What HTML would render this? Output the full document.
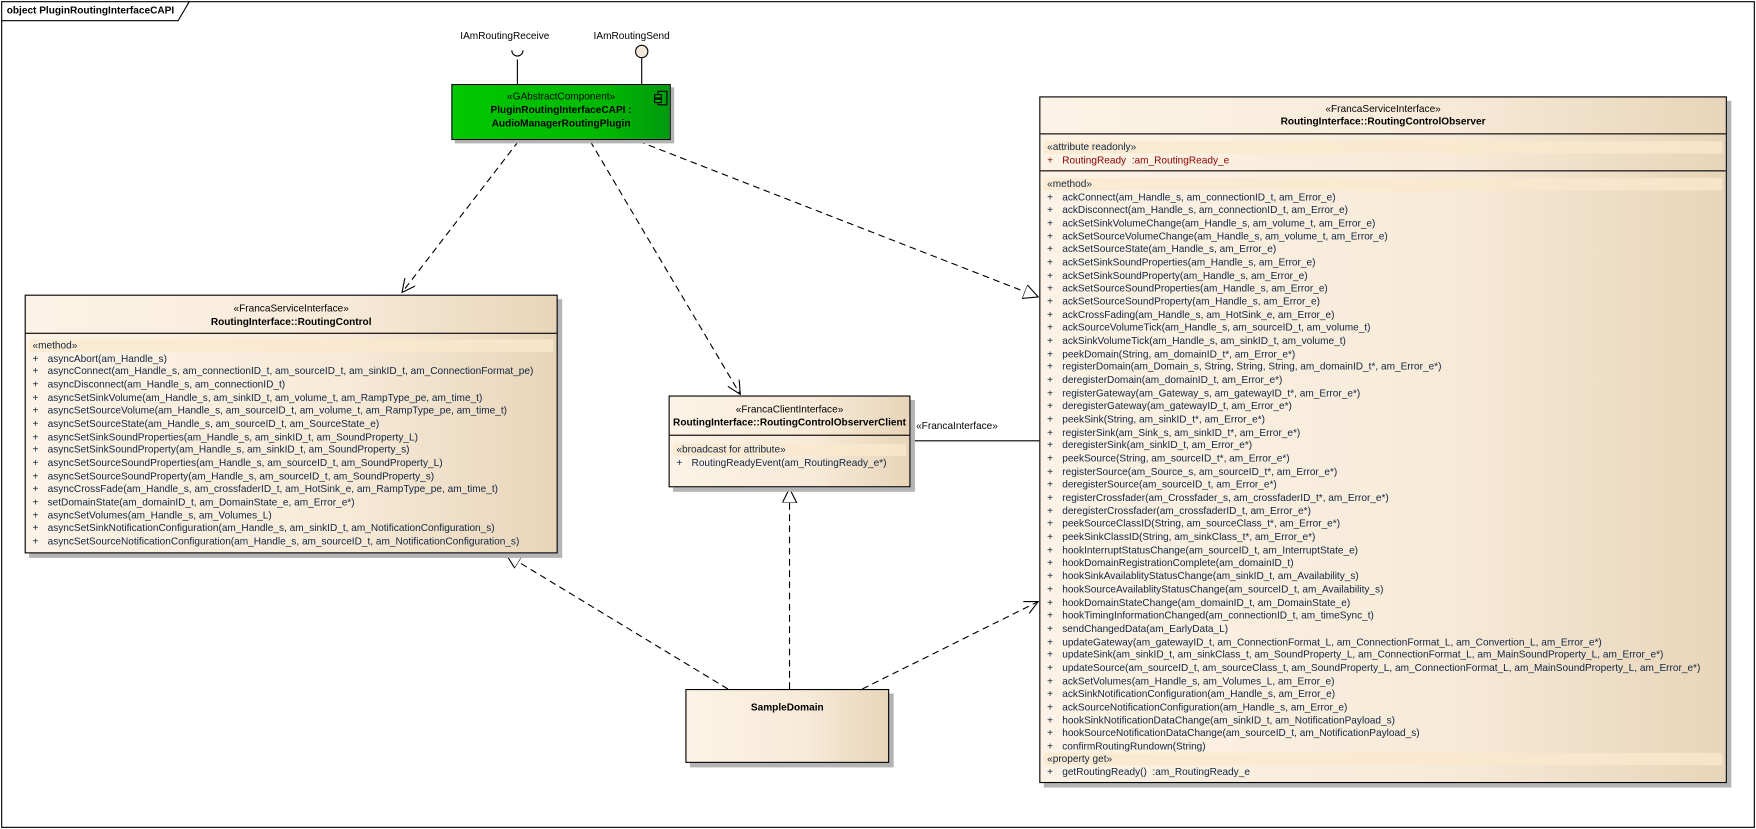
<!DOCTYPE html>
<html><head><meta charset="utf-8"><style>
html,body{margin:0;padding:0;background:#fff;width:1756px;height:829px;overflow:hidden}
#w{position:absolute;left:0;top:0;width:1568px;height:740px;transform:scale(1.1199,1.1203);transform-origin:0 0;font-family:"Liberation Sans",Arial,sans-serif;font-size:9px;color:#000}
.cls{position:absolute;border:1px solid #000;box-shadow:4px 4px 0 #b4b4b4;background:linear-gradient(to right,#fcf3e6 0%,#f7ead8 60%,#e8d5b9 100%);box-sizing:border-box}
.hdr{position:absolute;left:0;right:0;text-align:center;line-height:11.67px}
.b{font-weight:bold}
.div{position:absolute;left:0;right:0;border-top:1px solid #000}
.band{position:absolute;left:3px;right:3px;height:11px;background:rgba(250,232,205,0.8)}
.lines{position:absolute;left:0;right:0;line-height:11.67px;white-space:pre;color:#10243f}
.lines div{padding-left:6px}
.lines span{display:inline-block;width:11px}
.lab{position:absolute;white-space:nowrap;line-height:11px}
</style></head><body><div id="w">
<svg width="1568" height="740" style="position:absolute;left:0;top:0">
<defs>
<marker id="oa" markerUnits="userSpaceOnUse" markerWidth="14" markerHeight="12" refX="12" refY="6" orient="auto"><path d="M0,0 L12,6 L0,12" fill="none" stroke="#000" stroke-width="1"/></marker>
<marker id="tr" markerUnits="userSpaceOnUse" markerWidth="16" markerHeight="14" refX="13" refY="6.5" orient="auto"><path d="M0,0 L13,6.5 L0,13 z" fill="#fff" stroke="#000" stroke-width="1"/></marker>
</defs>
<rect x="1.5" y="1.5" width="1565" height="737" fill="none" stroke="#000" stroke-width="1"/>
<path d="M1.5,18.5 L159,18.5 L169,1.5" fill="none" stroke="#000"/>
<g stroke="#000" fill="none">
<line x1="462" y1="53" x2="462" y2="75"/>
<path d="M457,45 A5,5 0 0 0 467,45"/>
<line x1="573" y1="52" x2="573" y2="75"/>
<circle cx="573" cy="46" r="5.5" fill="#f3e8d8"/>
</g>
<g stroke="#000" fill="none" stroke-dasharray="6,4">
<line x1="463" y1="126" x2="359" y2="261" marker-end="url(#oa)"/>
<line x1="527" y1="126" x2="661" y2="352" marker-end="url(#oa)"/>
<line x1="570" y1="126" x2="927" y2="265" marker-end="url(#tr)"/>
<line x1="650" y1="615" x2="452" y2="495" marker-end="url(#tr)"/>
<line x1="705" y1="615" x2="705" y2="436" marker-end="url(#tr)"/>
<line x1="770" y1="615" x2="927" y2="537" marker-end="url(#oa)"/>
</g>
<line x1="812" y1="393.5" x2="928" y2="393.5" stroke="#000"/>
</svg>
<div class="lab b" style="left:6px;top:4px">object PluginRoutingInterfaceCAPI</div>
<div class="lab" style="left:411px;top:27px">IAmRoutingReceive</div>
<div class="lab" style="left:530px;top:27px">IAmRoutingSend</div>
<div class="lab" style="left:818px;top:375px">«FrancaInterface»</div>

<div style="position:absolute;left:403px;top:75px;width:196px;height:50px;border:1px solid #000;box-sizing:border-box;background:linear-gradient(to right,#00c800 0%,#00b800 70%,#009a10 100%);box-shadow:3px 3px 0 #b4b4b4">
<div class="hdr" style="top:5px">«GAbstractComponent»</div>
<div class="hdr b" style="top:17px">PluginRoutingInterfaceCAPI :</div>
<div class="hdr b" style="top:29px">AudioManagerRoutingPlugin</div>
<div style="position:absolute;left:183px;top:5px;width:7px;height:11px;border:1px solid #000"></div>
<div style="position:absolute;left:180px;top:8px;width:5px;height:2px;border:1px solid #000;background:#00b800"></div>
<div style="position:absolute;left:180px;top:12px;width:5px;height:2px;border:1px solid #000;background:#00b800"></div>
</div>

<div class="cls" style="left:22px;top:263px;width:476px;height:231px">
<div class="hdr" style="top:6px">«FrancaServiceInterface»</div>
<div class="hdr b" style="top:18px">RoutingInterface::RoutingControl</div>
<div class="div" style="top:33px"></div>
<div class="band" style="top:39px"></div>
<div class="lines" style="top:39px"><div>«method»</div><div><span>+</span> asyncAbort(am_Handle_s)</div><div><span>+</span> asyncConnect(am_Handle_s, am_connectionID_t, am_sourceID_t, am_sinkID_t, am_ConnectionFormat_pe)</div><div><span>+</span> asyncDisconnect(am_Handle_s, am_connectionID_t)</div><div><span>+</span> asyncSetSinkVolume(am_Handle_s, am_sinkID_t, am_volume_t, am_RampType_pe, am_time_t)</div><div><span>+</span> asyncSetSourceVolume(am_Handle_s, am_sourceID_t, am_volume_t, am_RampType_pe, am_time_t)</div><div><span>+</span> asyncSetSourceState(am_Handle_s, am_sourceID_t, am_SourceState_e)</div><div><span>+</span> asyncSetSinkSoundProperties(am_Handle_s, am_sinkID_t, am_SoundProperty_L)</div><div><span>+</span> asyncSetSinkSoundProperty(am_Handle_s, am_sinkID_t, am_SoundProperty_s)</div><div><span>+</span> asyncSetSourceSoundProperties(am_Handle_s, am_sourceID_t, am_SoundProperty_L)</div><div><span>+</span> asyncSetSourceSoundProperty(am_Handle_s, am_sourceID_t, am_SoundProperty_s)</div><div><span>+</span> asyncCrossFade(am_Handle_s, am_crossfaderID_t, am_HotSink_e, am_RampType_pe, am_time_t)</div><div><span>+</span> setDomainState(am_domainID_t, am_DomainState_e, am_Error_e*)</div><div><span>+</span> asyncSetVolumes(am_Handle_s, am_Volumes_L)</div><div><span>+</span> asyncSetSinkNotificationConfiguration(am_Handle_s, am_sinkID_t, am_NotificationConfiguration_s)</div><div><span>+</span> asyncSetSourceNotificationConfiguration(am_Handle_s, am_sourceID_t, am_NotificationConfiguration_s)</div></div>
</div>

<div class="cls" style="left:597px;top:353px;width:216px;height:82px">
<div class="hdr" style="top:6px">«FrancaClientInterface»</div>
<div class="hdr b" style="top:18px">RoutingInterface::RoutingControlObserverClient</div>
<div class="div" style="top:34px"></div>
<div class="band" style="top:42px"></div>
<div class="lines" style="top:42px"><div>«broadcast for attribute»</div><div><span>+</span> RoutingReadyEvent(am_RoutingReady_e*)</div></div>
</div>

<div class="cls" style="left:612px;top:615px;width:182px;height:66px">
<div class="hdr b" style="top:10px">SampleDomain</div>
</div>

<div class="cls" style="left:928px;top:86px;width:614px;height:613px">
<div class="hdr" style="top:5px">«FrancaServiceInterface»</div>
<div class="hdr b" style="top:16px">RoutingInterface::RoutingControlObserver</div>
<div class="div" style="top:32px"></div>
<div class="band" style="top:39px"></div>
<div class="lines" style="top:39px"><div>«attribute readonly»</div><div style="color:#8b0000"><span>+</span> RoutingReady  :am_RoutingReady_e</div></div>
<div class="div" style="top:65px"></div>
<div class="band" style="top:72px"></div>
<div class="lines" style="top:72px"><div>«method»</div><div><span>+</span> ackConnect(am_Handle_s, am_connectionID_t, am_Error_e)</div><div><span>+</span> ackDisconnect(am_Handle_s, am_connectionID_t, am_Error_e)</div><div><span>+</span> ackSetSinkVolumeChange(am_Handle_s, am_volume_t, am_Error_e)</div><div><span>+</span> ackSetSourceVolumeChange(am_Handle_s, am_volume_t, am_Error_e)</div><div><span>+</span> ackSetSourceState(am_Handle_s, am_Error_e)</div><div><span>+</span> ackSetSinkSoundProperties(am_Handle_s, am_Error_e)</div><div><span>+</span> ackSetSinkSoundProperty(am_Handle_s, am_Error_e)</div><div><span>+</span> ackSetSourceSoundProperties(am_Handle_s, am_Error_e)</div><div><span>+</span> ackSetSourceSoundProperty(am_Handle_s, am_Error_e)</div><div><span>+</span> ackCrossFading(am_Handle_s, am_HotSink_e, am_Error_e)</div><div><span>+</span> ackSourceVolumeTick(am_Handle_s, am_sourceID_t, am_volume_t)</div><div><span>+</span> ackSinkVolumeTick(am_Handle_s, am_sinkID_t, am_volume_t)</div><div><span>+</span> peekDomain(String, am_domainID_t*, am_Error_e*)</div><div><span>+</span> registerDomain(am_Domain_s, String, String, String, am_domainID_t*, am_Error_e*)</div><div><span>+</span> deregisterDomain(am_domainID_t, am_Error_e*)</div><div><span>+</span> registerGateway(am_Gateway_s, am_gatewayID_t*, am_Error_e*)</div><div><span>+</span> deregisterGateway(am_gatewayID_t, am_Error_e*)</div><div><span>+</span> peekSink(String, am_sinkID_t*, am_Error_e*)</div><div><span>+</span> registerSink(am_Sink_s, am_sinkID_t*, am_Error_e*)</div><div><span>+</span> deregisterSink(am_sinkID_t, am_Error_e*)</div><div><span>+</span> peekSource(String, am_sourceID_t*, am_Error_e*)</div><div><span>+</span> registerSource(am_Source_s, am_sourceID_t*, am_Error_e*)</div><div><span>+</span> deregisterSource(am_sourceID_t, am_Error_e*)</div><div><span>+</span> registerCrossfader(am_Crossfader_s, am_crossfaderID_t*, am_Error_e*)</div><div><span>+</span> deregisterCrossfader(am_crossfaderID_t, am_Error_e*)</div><div><span>+</span> peekSourceClassID(String, am_sourceClass_t*, am_Error_e*)</div><div><span>+</span> peekSinkClassID(String, am_sinkClass_t*, am_Error_e*)</div><div><span>+</span> hookInterruptStatusChange(am_sourceID_t, am_InterruptState_e)</div><div><span>+</span> hookDomainRegistrationComplete(am_domainID_t)</div><div><span>+</span> hookSinkAvailablityStatusChange(am_sinkID_t, am_Availability_s)</div><div><span>+</span> hookSourceAvailablityStatusChange(am_sourceID_t, am_Availability_s)</div><div><span>+</span> hookDomainStateChange(am_domainID_t, am_DomainState_e)</div><div><span>+</span> hookTimingInformationChanged(am_connectionID_t, am_timeSync_t)</div><div><span>+</span> sendChangedData(am_EarlyData_L)</div><div><span>+</span> updateGateway(am_gatewayID_t, am_ConnectionFormat_L, am_ConnectionFormat_L, am_Convertion_L, am_Error_e*)</div><div><span>+</span> updateSink(am_sinkID_t, am_sinkClass_t, am_SoundProperty_L, am_ConnectionFormat_L, am_MainSoundProperty_L, am_Error_e*)</div><div><span>+</span> updateSource(am_sourceID_t, am_sourceClass_t, am_SoundProperty_L, am_ConnectionFormat_L, am_MainSoundProperty_L, am_Error_e*)</div><div><span>+</span> ackSetVolumes(am_Handle_s, am_Volumes_L, am_Error_e)</div><div><span>+</span> ackSinkNotificationConfiguration(am_Handle_s, am_Error_e)</div><div><span>+</span> ackSourceNotificationConfiguration(am_Handle_s, am_Error_e)</div><div><span>+</span> hookSinkNotificationDataChange(am_sinkID_t, am_NotificationPayload_s)</div><div><span>+</span> hookSourceNotificationDataChange(am_sourceID_t, am_NotificationPayload_s)</div><div><span>+</span> confirmRoutingRundown(String)</div></div>
<div class="band" style="top:585px"></div>
<div class="lines" style="top:585px"><div>«property get»</div><div><span>+</span> getRoutingReady()  :am_RoutingReady_e</div></div>
</div>
</div></body></html>
